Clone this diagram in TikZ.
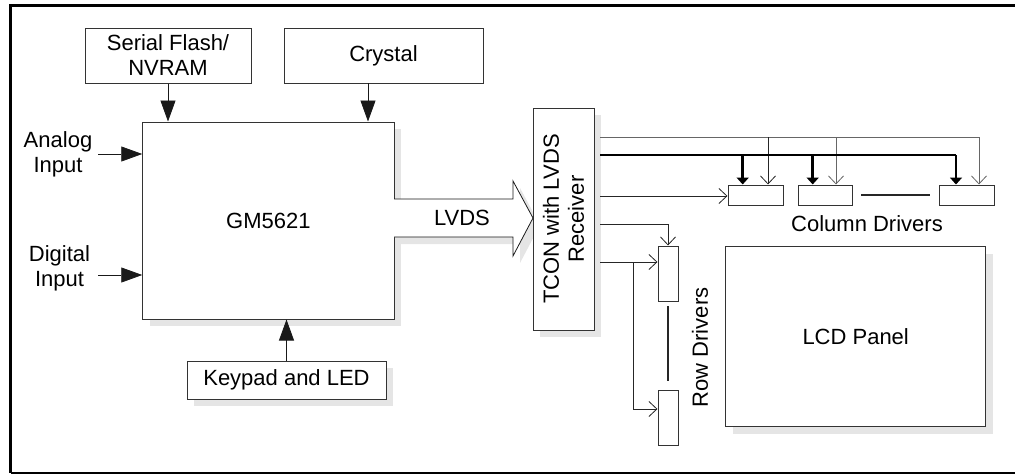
\documentclass[tikz,border=0pt]{standalone}
\usepackage{fontspec}
\setmainfont{Liberation Sans}
\usetikzlibrary{arrows.meta,shadows,calc}
\begin{document}
\begin{tikzpicture}[x=1pt,y=-1pt,
  lbl/.style={font=\fontsize{22}{25}\selectfont, align=center, inner sep=0pt},
  box/.style={draw=black!80, line width=1pt, fill=white, inner sep=0pt, align=center,
              font=\fontsize{22}{25}\selectfont},
  shad/.style={general shadow={fill=black!10, shadow xshift=7pt, shadow yshift=-7pt}},
  frame/.style={line width=3.3pt, black},
  bigarr/.style={line width=0.8pt, black!90, -{Triangle[length=21pt,width=15pt]}},
  thinarr/.style={line width=0.8pt, black!85, -{Straight Barb[length=8pt,width=15pt]}},
  grayarr/.style={line width=0.8pt, black!60, -{Straight Barb[length=8pt,width=15pt]}},
  busarr/.style={line width=2.6pt, black, -{Triangle[length=7pt,width=12pt]}},
  sep/.style={line width=1.3pt, black!85}]
\useasboundingbox (0,0) rectangle (1015,474);
% frame
\draw[frame] (1015,5.5) -- (10.7,5.5) -- (10.7,473);
\draw[line width=2pt] (10.7,473) -- (1015,473);

% boxes
\node[box, minimum width=166, minimum height=55] (flash) at (168,55.5) {Serial Flash/\\NVRAM};
\node[box, minimum width=199, minimum height=55] (crystal) at (383.5,55.5) {Crystal};
\node[box, shad, minimum width=251.3, minimum height=197] (gm) at (268.4,220.5) {GM5621};
\node[box, shad, minimum width=199, minimum height=38] (key) at (286.5,380) {Keypad and LED};
\node[box, shad, minimum width=260, minimum height=180] (lcd) at (855.7,336.7) {LCD Panel};

% LVDS arrow
\fill[black!10] (401,206) -- (520,206) -- (520,188) -- (540,225) -- (520,263) -- (520,244) -- (401,244) -- cycle;
\node[box, shad, minimum width=61, minimum height=222] (tcon) at (563.5,219) {};
\draw[line width=0.8pt, black!90, fill=white] (394,199) -- (513,199) -- (513,181) -- (533,218) -- (513,256) -- (513,237) -- (394,237);
\node[lbl] (lvds) at (462,218) {LVDS};
\node[lbl, rotate=90] (tcontxt) at (tcon.center) {TCON with LVDS\\Receiver};

% column drivers
\node[box, minimum width=55, minimum height=20] (c1) at (755.5,195) {};
\node[box, minimum width=54, minimum height=20] (c2) at (825,195) {};
\node[box, minimum width=55, minimum height=20] (c3) at (966.5,195) {};
\node[lbl] (coltxt) at (867,224) {Column Drivers};
\coordinate (cs1) at (861,195); \coordinate (cs2) at (930,195);
\draw[sep] (cs1) -- (cs2);

% row drivers
\node[box, minimum width=20, minimum height=55] (r1) at (668,273.5) {};
\node[box, minimum width=20, minimum height=55] (r2) at (668,418.3) {};
\node[lbl, rotate=90] (rowtxt) at (700,347.5) {Row Drivers};
\coordinate (rs1) at (668,306); \coordinate (rs2) at (668,381);
\draw[sep] (rs1) -- (rs2);

% inputs
\node[lbl] (ain) at (58,154) {Analog\\Input};
\node[lbl] (din) at (59.5,268.5) {Digital\\Input};
\coordinate (a1) at (98,154);
\coordinate (d1) at (98,275);
\draw[bigarr] (a1) -- (a1 -| gm.west);
\draw[bigarr] (d1) -- (d1 -| gm.west);
\draw[bigarr] (flash.south) -- (flash.south |- gm.north);
\coordinate (cr) at (368,83);
\draw[bigarr] (cr) -- (cr |- gm.north);
\draw[bigarr] (key.north) -- (key.north |- gm.south);

% gray clock-like line
\coordinate (g0) at (600,137);
\coordinate (g1) at (768,137);
\coordinate (g2) at (836,137);
\coordinate (g3) at (979,137);
\draw[line width=0.8pt, black!60] (g0) -- (g3);
\draw[thinarr] (g1) -- (g1 |- c1.north);
\draw[grayarr] (g2) -- (g2 |- c2.north);
\draw[grayarr] (g3) -- (g3 |- c3.north);

% data bus
\coordinate (b0) at (600,155);
\coordinate (b1) at (742.7,155);
\coordinate (b2) at (812.7,155);
\coordinate (b3) at (956,155);
\draw[line width=2.6pt] (b0) -- (b3);
\draw[busarr] (b1) -- (b1 |- c1.north);
\draw[busarr] (b2) -- (b2 |- c2.north);
\draw[busarr] (b3) -- (b3 |- c3.north);

% control to column driver 1
\coordinate (s0) at (600,196);
\draw[thinarr] (s0) -- (s0 -| c1.west);

% row driver controls
\coordinate (t0) at (600,224);
\draw[thinarr] (t0) -| (r1.north);
\coordinate (u0) at (600,262);
\coordinate (ub) at (633,262);
\coordinate (ud) at (633,409);
\draw[thinarr] (u0) -- (u0 -| r1.west);
\draw[thinarr] (ub) -- (ud) -- (ud -| r2.west);
\end{tikzpicture}
\end{document}
